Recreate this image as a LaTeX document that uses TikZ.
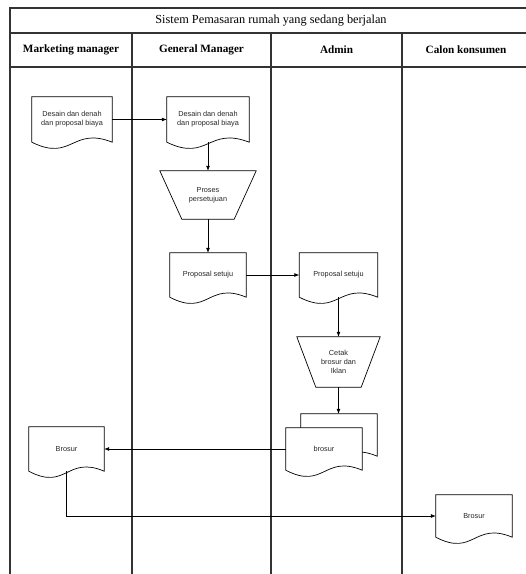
\documentclass[tikz,border=0pt]{standalone}
\usepackage{fontspec}
\setmainfont{Liberation Serif}
\newfontfamily\arialf{Liberation Sans}
\usetikzlibrary{arrows.meta,calc}
\pgfdeclarelayer{bg}
\pgfsetlayers{bg,main}
\tikzset{
  lane/.style={line width=1.1pt, draw=black!80},
  flow/.style={line width=0.7pt, draw=black},
  arr/.style={flow, -{Latex[length=5pt,width=4pt]}},
  docnode/.style={draw=none, inner sep=1pt, align=center,
    font=\arialf\fontsize{7.3}{8.8}\selectfont, text=black!85},
  trapnode/.style={draw=none, inner sep=1pt, align=center,
    font=\arialf\fontsize{7.3}{8.8}\selectfont, text=black!85},
  titletext/.style={font=\fontsize{12.3}{14}\selectfont},
  headtext/.style={font=\bfseries\fontsize{11.2}{13}\selectfont}
}
\newcommand\drawdoc[1]{%
  \draw[flow,fill=white] (#1.south west) -- (#1.north west) -- (#1.north east) -- (#1.south east)
    .. controls ($(#1.south)+(0,-16)$) and ($(#1.south)+(0,20)$) .. (#1.south west) -- cycle;}
\newcommand\drawtrap[2]{%
  \draw[flow,fill=white] (#1.north west) -- (#1.north east) -- ($(#1.south east)+(-#2,0)$)
    -- ($(#1.south west)+(#2,0)$) -- cycle;}
\begin{document}
\begin{tikzpicture}[x=1pt,y=-1pt]
\useasboundingbox (0,0) rectangle (526,574);
% swimlane table
\coordinate (tl) at (10,8);
\coordinate (tr) at (526,8);
\coordinate (bl) at (10,574);
\coordinate (r1l) at (10,33);
\coordinate (r1r) at (526,33);
\coordinate (r2l) at (10,67);
\coordinate (r2r) at (526,67);
\coordinate (c1t) at (132,33);
\coordinate (c1b) at (132,574);
\coordinate (c2t) at (271,33);
\coordinate (c2b) at (271,574);
\coordinate (c3t) at (402,33);
\coordinate (c3b) at (402,574);
\draw[lane] (bl) -- (tl) -- (tr);
\draw[lane] (r1l) -- (r1r);
\draw[lane] (r2l) -- (r2r);
\draw[lane] (c1t) -- (c1b);
\draw[lane] (c2t) -- (c2b);
\draw[lane] (c3t) -- (c3b);
\node[titletext] (title) at (271,20.5) {Sistem Pemasaran rumah yang sedang berjalan};
\node[headtext] (h1) at (71,50) {Marketing manager};
\node[headtext] (h2) at (201.5,50) {General Manager};
\node[headtext] (h3) at (336.5,50) {Admin};
\node[headtext] (h4) at (466,50) {Calon konsumen};
% nodes
\node[docnode, minimum width=80pt, minimum height=45pt] (d1) at (72,119.5) {Desain dan denah\\dan proposal biaya};
\node[docnode, minimum width=82pt, minimum height=45pt] (d2) at (208,119.5) {Desain dan denah\\dan proposal biaya};
\node[trapnode, minimum width=96pt, minimum height=48pt] (t1) at (208,195) {Proses\\persetujuan};
\node[docnode, minimum width=76pt, minimum height=44pt] (d3) at (208,275) {Proposal setuju};
\node[docnode, minimum width=78pt, minimum height=44pt] (d4) at (338.5,275) {Proposal setuju};
\node[trapnode, minimum width=83pt, minimum height=50pt] (t2) at (338.5,362) {Cetak\\brosur dan\\Iklan};
\node[docnode, minimum width=76pt, minimum height=42pt] (d7b) at (339,435) {};
\node[docnode, minimum width=76pt, minimum height=42pt] (d7) at (324,449) {brosur};
\node[docnode, minimum width=75pt, minimum height=44pt] (d5) at (66.5,449) {Brosur};
\node[docnode, minimum width=76pt, minimum height=42pt] (d6) at (474,516) {Brosur};
\begin{pgfonlayer}{bg}
\drawdoc{d1}
\drawdoc{d2}
\drawtrap{t1}{22}
\drawdoc{d3}
\drawdoc{d4}
\drawtrap{t2}{19}
\drawdoc{d7b}
\drawdoc{d7}
\drawdoc{d5}
\drawdoc{d6}
\end{pgfonlayer}
% connectors
\draw[arr] (d1.east) -- (d2.west);
\draw[arr] (d2.south) -- (t1.north);
\draw[arr] (t1.south) -- (d3.north);
\draw[arr] (d3.east) -- (d4.west);
\draw[arr] (d4.south) -- (t2.north);
\draw[arr] (t2.south) -- (t2.south |- d7b.north);
\draw[arr] (d7.west) -- (d5.east);
\draw[arr] (d5.south) |- (d6.west);
\end{tikzpicture}
\end{document}
